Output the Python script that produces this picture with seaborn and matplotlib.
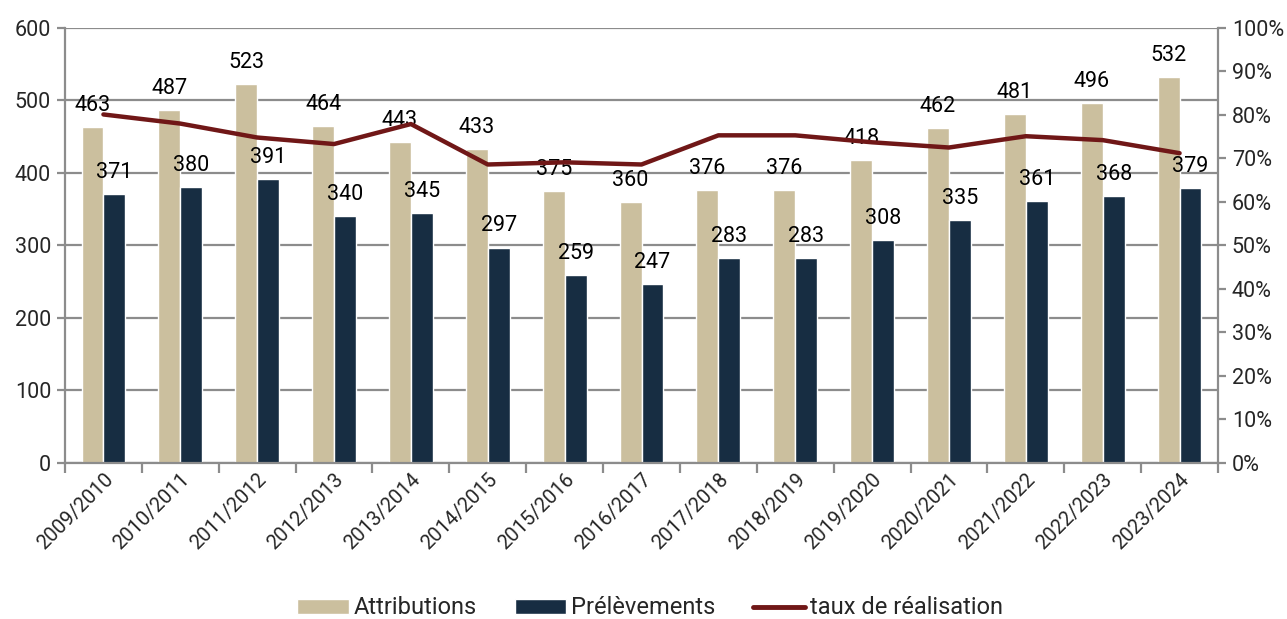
import pandas as pd
import matplotlib
matplotlib.use('Agg')
import matplotlib.pyplot as plt
import seaborn as sns
from matplotlib.ticker import PercentFormatter, MultipleLocator, FixedLocator
from matplotlib.patches import Patch
from matplotlib.lines import Line2D

# Données
periodes = ['2009/2010', '2010/2011', '2011/2012', '2012/2013', '2013/2014',
            '2014/2015', '2015/2016', '2016/2017', '2017/2018', '2018/2019',
            '2019/2020', '2020/2021', '2021/2022', '2022/2023', '2023/2024']
attributions = [463, 487, 523, 464, 443, 433, 375, 360, 376, 376, 418, 462, 481, 496, 532]
prelevements = [371, 380, 391, 340, 345, 297, 259, 247, 283, 283, 308, 335, 361, 368, 379]
taux = [0.801, 0.780, 0.748, 0.733, 0.779, 0.686, 0.691, 0.686, 0.753, 0.753,
        0.737, 0.725, 0.751, 0.742, 0.712]

c_attr = '#CBBF9E'
c_prel = '#172D42'
c_taux = '#701717'
c_axe = '#8C8C8C'

sns.set_theme(style='white')
plt.rcParams['font.family'] = ['Roboto', 'DejaVu Sans']

df = pd.DataFrame({
    'periode': periodes * 2,
    'valeur': attributions + prelevements,
    'serie': ['Attributions'] * len(periodes) + ['Prélèvements'] * len(periodes),
})

fig, ax = plt.subplots(figsize=(12.87, 6.19), dpi=100)
fig.subplots_adjust(left=0.0505, right=0.9464, top=0.955, bottom=0.252)

sns.barplot(data=df, x='periode', y='valeur', hue='serie', order=periodes,
            palette=[c_attr, c_prel], width=0.57, gap=0, saturation=1,
            legend=False, ax=ax, zorder=2)

for cont in ax.containers:
    ax.bar_label(cont, fontsize=15.5, padding=8, color='black')

ax.set_ylim(0, 600)
ax.set_xlim(-0.5, len(periodes) - 0.5)
ax.yaxis.set_major_locator(MultipleLocator(100))
ax.grid(axis='y', color=c_axe, linewidth=1.6, zorder=0)
ax.set_axisbelow(True)
ax.set_xlabel('')
ax.set_ylabel('')
ax.tick_params(axis='y', labelsize=15.5, length=6, color=c_axe, width=1.6, left=True, pad=4)
ax.tick_params(axis='x', which='major', labelsize=14.5, length=0, pad=5)
ax.set_xticks(range(len(periodes)))
ax.set_xticklabels(periodes, rotation=45, ha='right', rotation_mode='anchor')
ax.xaxis.set_minor_locator(FixedLocator([i - 0.5 for i in range(len(periodes) + 1)]))
ax.tick_params(axis='x', which='minor', length=7, color=c_axe, width=1.6, bottom=True)
for s in ['left', 'bottom', 'right']:
    ax.spines[s].set_color(c_axe)
    ax.spines[s].set_linewidth(1.6)
ax.spines['top'].set_visible(False)

ax2 = ax.twinx()
sns.lineplot(x=list(range(len(periodes))), y=taux, ax=ax2, color=c_taux,
             linewidth=3.2, sort=False)
ax2.set_ylim(0, 1)
ax2.yaxis.set_major_locator(MultipleLocator(0.1))
ax2.yaxis.set_major_formatter(PercentFormatter(1.0, decimals=0))
ax2.tick_params(axis='y', labelsize=15.5, length=6, color=c_axe, width=1.6, right=True, pad=4)
ax2.grid(False)
for s in ['left', 'bottom', 'right', 'top']:
    ax2.spines[s].set_visible(False)

handles = [Patch(facecolor=c_attr, label='Attributions'),
           Patch(facecolor=c_prel, label='Prélèvements'),
           Line2D([0], [0], color=c_taux, linewidth=3.5, label='taux de réalisation')]
fig.legend(handles=handles, loc='lower center', bbox_to_anchor=(0.505, -0.035), ncol=3,
           frameon=False, fontsize=17, handlelength=2.2, handleheight=0.6,
           columnspacing=1.6, handletextpad=0.2)

fig.savefig('out.png', dpi=100)
